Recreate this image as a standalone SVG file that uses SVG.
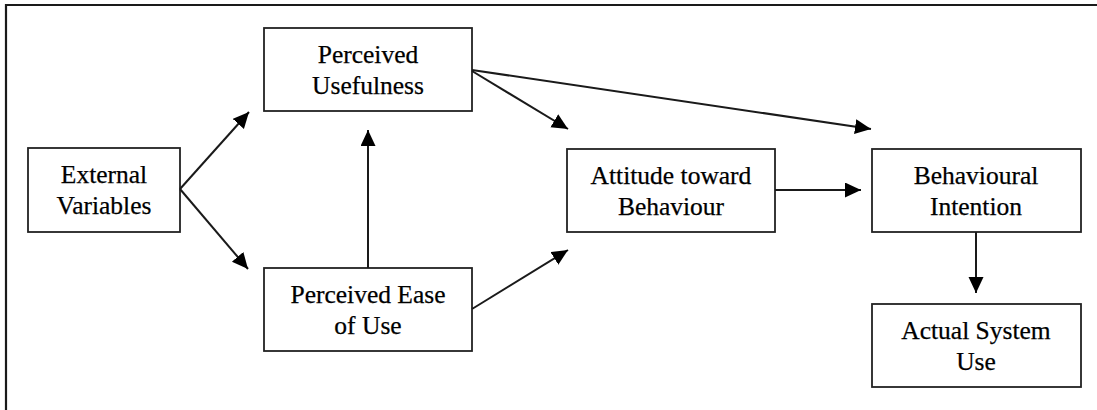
<svg xmlns="http://www.w3.org/2000/svg" width="1097" height="410" viewBox="0 0 1097 410">
  <style>
    .box { fill: #ffffff; stroke: #222222; stroke-width: 1.8; }
    .lbl { font-family: "Liberation Serif", "Times New Roman", serif; font-size: 25.5px; fill: #000000; stroke: #000000; stroke-width: 0.25; text-anchor: middle; }
    .edge { fill: none; stroke: #1a1a1a; stroke-width: 2; marker-end: url(#arrow); }
    .frame { fill: none; stroke: #1a1a1a; stroke-width: 2.2; }
  </style>
  <defs>
    <marker id="arrow" markerUnits="userSpaceOnUse" markerWidth="18" markerHeight="16" refX="16" refY="7.5" orient="auto">
      <path d="M0,0 L16,7.5 L0,15 z" fill="#000000"/>
    </marker>
  </defs>

  <rect width="1097" height="410" fill="#ffffff"/>
  <!-- outer frame, open on the right and bottom -->
  <path class="frame" d="M6,410 V5 H1097"/>

  <g id="external-variables">
    <rect class="box" x="28" y="148" width="152" height="84"/>
    <text class="lbl" x="104" y="183">External</text>
    <text class="lbl" x="104" y="214">Variables</text>
  </g>

  <g id="perceived-usefulness">
    <rect class="box" x="264" y="28" width="208" height="83"/>
    <text class="lbl" x="368" y="63">Perceived</text>
    <text class="lbl" x="368" y="94">Usefulness</text>
  </g>

  <g id="perceived-ease-of-use">
    <rect class="box" x="264" y="268" width="208" height="83"/>
    <text class="lbl" x="368" y="303">Perceived Ease</text>
    <text class="lbl" x="368" y="334">of Use</text>
  </g>

  <g id="attitude-toward-behaviour">
    <rect class="box" x="567" y="149" width="208" height="83"/>
    <text class="lbl" x="671" y="184">Attitude toward</text>
    <text class="lbl" x="671" y="215">Behaviour</text>
  </g>

  <g id="behavioural-intention">
    <rect class="box" x="872" y="149" width="209" height="83"/>
    <text class="lbl" x="976" y="184">Behavioural</text>
    <text class="lbl" x="976" y="215">Intention</text>
  </g>

  <g id="actual-system-use">
    <rect class="box" x="872" y="304" width="209" height="83"/>
    <text class="lbl" x="976" y="339">Actual System</text>
    <text class="lbl" x="976" y="370">Use</text>
  </g>

  <g id="connectors">
    <line class="edge" x1="180" y1="189" x2="249" y2="112"/>
    <line class="edge" x1="180" y1="189" x2="248" y2="269"/>
    <line class="edge" x1="368" y1="268" x2="368" y2="130"/>
    <line class="edge" x1="472" y1="71" x2="568" y2="129"/>
    <line class="edge" x1="472" y1="70" x2="871" y2="129"/>
    <line class="edge" x1="472" y1="309" x2="568" y2="250"/>
    <line class="edge" x1="775" y1="190" x2="861" y2="190"/>
    <line class="edge" x1="976" y1="232" x2="976" y2="293"/>
  </g>
</svg>
